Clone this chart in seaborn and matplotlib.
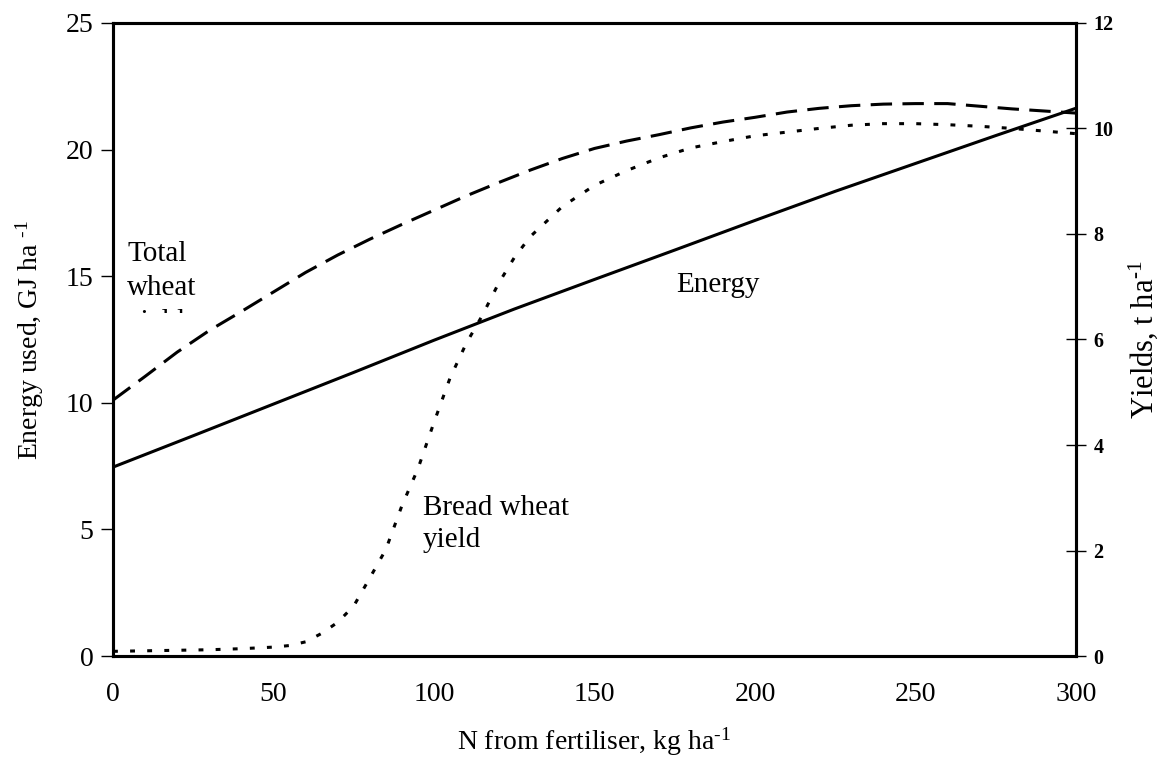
import numpy as np
import pandas as pd
import matplotlib
matplotlib.use('Agg')
import matplotlib.pyplot as plt
from matplotlib.transforms import Bbox, TransformedBbox
import seaborn as sns

# N from fertiliser, kg/ha
n_energy = [0, 25, 50, 75, 100, 125, 150, 175, 200, 225, 250, 275, 300]
energy = [7.46, 8.70, 9.95, 11.20, 12.47, 13.70, 14.87, 16.03, 17.20, 18.35, 19.45, 20.55, 21.63]

n_total = [0, 10, 20, 30, 40, 50, 60, 70, 80, 90, 100, 110, 120, 130, 140, 150,
           160, 170, 180, 190, 200, 210, 220, 230, 240, 250, 260, 270, 280, 290, 300]
total_yield = [4.85, 5.30, 5.76, 6.17, 6.53, 6.90, 7.27, 7.60, 7.90, 8.18, 8.45,
               8.72, 8.97, 9.21, 9.43, 9.62, 9.76, 9.88, 10.01, 10.12, 10.21,
               10.31, 10.38, 10.43, 10.46, 10.47, 10.47, 10.42, 10.37, 10.33, 10.29]

n_bread = [0, 10, 20, 30, 40, 50, 55, 60, 65, 70, 75, 80, 85, 90, 95, 100, 105,
           110, 115, 120, 125, 130, 140, 150, 160, 170, 180, 190, 200, 210, 220,
           230, 240, 250, 260, 270, 280, 290, 300]
bread_yield = [0.09, 0.10, 0.11, 0.12, 0.14, 0.17, 0.20, 0.27, 0.43, 0.64, 0.95,
               1.48, 2.02, 2.85, 3.55, 4.43, 5.27, 5.92, 6.45, 7.05, 7.55, 7.95,
               8.52, 8.92, 9.20, 9.44, 9.63, 9.75, 9.86, 9.93, 10.00, 10.06,
               10.09, 10.09, 10.07, 10.04, 10.00, 9.95, 9.90]

df_energy = pd.DataFrame({'N': n_energy, 'value': energy})
df_total = pd.DataFrame({'N': n_total, 'value': total_yield})
df_bread = pd.DataFrame({'N': n_bread, 'value': bread_yield})

sns.set_style('white')
plt.rcParams['font.family'] = ['Liberation Serif', 'DejaVu Serif']
plt.rcParams['mathtext.fontset'] = 'custom'
plt.rcParams['mathtext.rm'] = 'Liberation Serif'
plt.rcParams['mathtext.it'] = 'Liberation Serif:italic'
plt.rcParams['mathtext.bf'] = 'Liberation Serif:bold'
plt.rcParams['text.color'] = 'black'
plt.rcParams['axes.labelcolor'] = 'black'
plt.rcParams['xtick.color'] = 'black'
plt.rcParams['ytick.color'] = 'black'

fig = plt.figure(figsize=(11.6, 7.62), dpi=100)
ax = fig.add_axes([0.0974, 0.139, 0.8302, 0.831])
ax2 = ax.twinx()

lw = 2.2
sns.lineplot(data=df_energy, x='N', y='value', ax=ax, color='black', lw=lw)
sns.lineplot(data=df_total, x='N', y='value', ax=ax2, color='black', lw=lw)
sns.lineplot(data=df_bread, x='N', y='value', ax=ax2, color='black', lw=lw)
ax2.lines[0].set_dashes((7.0, 3.4))
ax2.lines[1].set_dashes((1.6, 4.0))

ax.set_xlim(0, 300)
ax.set_ylim(0, 25)
ax2.set_ylim(0, 12)
ax.set_xticks(range(0, 301, 50))
ax.set_yticks(range(0, 26, 5))
ax2.set_yticks(range(0, 13, 2))

for a in (ax, ax2):
    for s in a.spines.values():
        s.set_linewidth(2.2)
        s.set_color('black')

ax.tick_params(axis='both', labelsize=20, width=1.0, length=9, direction='out',
               pad=10, color='black', labelcolor='black')
ax.tick_params(axis='y', pad=5)
ax2.tick_params(axis='y', labelsize=14.5, width=1.0, length=15, direction='inout',
                pad=5, color='black', labelcolor='black')
for lab in ax2.get_yticklabels():
    lab.set_fontweight('bold')

ax.set_xlabel(r'N from fertiliser, kg ha$^{\text{-1}}$', fontsize=20, labelpad=13)
ax.set_ylabel(r'Energy used, GJ ha $^{\text{-1}}$', fontsize=20, labelpad=14)
ax2.set_ylabel(r'Yields, t ha$^{\text{-1}}$', fontsize=22, labelpad=9)

ax.text(175.5, 14.65, 'Energy', fontsize=21, va='center', ha='left')
ax.text(96.5, 6.35, 'Bread wheat\nyield', fontsize=21, va='top', ha='left',
        linespacing=1.3)
t = ax.text(4.4, 16.4, 'Total\nwheat\nyield', fontsize=21, va='top', ha='left',
            linespacing=1.4)
t.set_clip_box(TransformedBbox(Bbox([[0, 13.55], [80, 25]]), ax.transData))
t.set_clip_on(True)

fig.savefig('out.png', dpi=100)
